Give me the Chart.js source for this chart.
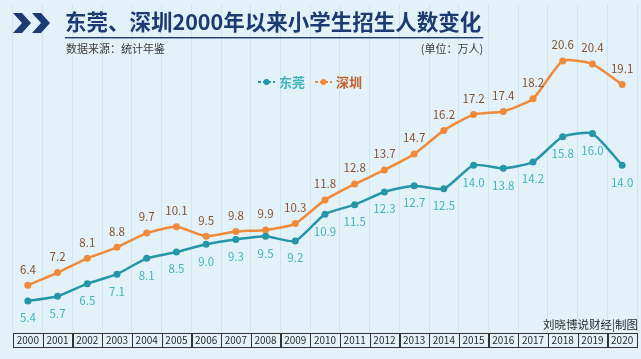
<!DOCTYPE html>
<html><head><meta charset="utf-8">
<script src="https://cdn.jsdelivr.net/npm/chart.js@4"></script>
<style>
html,body{margin:0;padding:0;background:#e3f2f9;}
#wrap{position:relative;width:641px;height:359px;}
canvas{display:block;}
</style></head>
<body><div id="wrap"><canvas id="c" width="641" height="359"></canvas></div>
<script>
const years = ['2000','2001','2002','2003','2004','2005','2006','2007','2008','2009','2010','2011','2012','2013','2014','2015','2016','2017','2018','2019','2020'];
const dongguan = [5.4,5.7,6.5,7.1,8.1,8.5,9.0,9.3,9.5,9.2,10.9,11.5,12.3,12.7,12.5,14.0,13.8,14.2,15.8,16.0,14.0];
const shenzhen = [6.4,7.2,8.1,8.8,9.7,10.1,9.5,9.8,9.9,10.3,11.8,12.8,13.7,14.7,16.2,17.2,17.4,18.2,20.6,20.4,19.1];
const seriesNames = ['东莞','深圳'];
const titleText = '东莞、深圳2000年以来小学生招生人数变化';
const sourceText = '数据来源：统计年鉴';
const unitText = '(单位：万人)';
const creditText = '刘晓博说财经|制图';

const FONT = '"Noto Sans CJK SC","Noto Sans",sans-serif';
const C_DG_LINE = '#2596a6', C_DG_LABEL = '#40b4ba';
const C_SZ_LINE = '#f08a3a', C_SZ_LABEL = '#87502f';

const deco = {
  id:'deco',
  beforeDraw(chart){
    const ctx = chart.ctx;
    ctx.save();
    ctx.fillStyle = '#e3f2f9';
    ctx.fillRect(0,0,chart.width,chart.height);
    ctx.restore();
  },
  afterDraw(chart){
    const ctx = chart.ctx;
    const xs = chart.scales.x;
    ctx.save();
    // chevrons
    ctx.fillStyle = '#1d3a72';
    const chev = (x0)=>{
      ctx.beginPath();
      ctx.moveTo(x0,13); ctx.lineTo(x0+9,13); ctx.lineTo(x0+18,23);
      ctx.lineTo(x0+9,33); ctx.lineTo(x0,33); ctx.lineTo(x0+9,23); ctx.closePath(); ctx.fill();
    };
    chev(13); chev(32);
    // title
    ctx.fillStyle = '#1d3a72';
    ctx.font = 'bold 21.5px ' + FONT;
    ctx.textBaseline = 'middle';
    ctx.textAlign = 'left';
    ctx.fillText(titleText, 65, 22);
    const tw = ctx.measureText(titleText).width;
    ctx.fillRect(65, 37, tw+2, 1.4);
    // subtitle
    ctx.fillStyle = '#3a3a3a';
    ctx.font = '11px ' + FONT;
    ctx.fillText(sourceText, 66, 49);
    ctx.textAlign = 'right';
    ctx.fillText(unitText, 65+tw+2, 49);
    // credit
    ctx.fillStyle = '#2a2a2a';
    ctx.font = '11.5px ' + FONT;
    ctx.fillText(creditText, 638, 325);
    // legend
    const legend = [[seriesNames[0], C_DG_LINE, C_DG_LABEL, 258],[seriesNames[1], C_SZ_LINE, '#c0602a', 315]];
    legend.forEach(([name, lc, tc, x])=>{
      ctx.strokeStyle = lc; ctx.lineWidth = 2; ctx.setLineDash([3,2]);
      ctx.beginPath(); ctx.moveTo(x,82); ctx.lineTo(x+17,82); ctx.stroke();
      ctx.setLineDash([]);
      ctx.fillStyle = lc; ctx.beginPath(); ctx.arc(x+8.5,82,3,0,Math.PI*2); ctx.fill();
      ctx.fillStyle = tc; ctx.font = 'bold 13px ' + FONT; ctx.textAlign='left';
      ctx.fillText(name, x+21, 82);
    });
    // data labels
    ctx.font = '11.5px ' + FONT;
    ctx.textAlign = 'center';
    const m0 = chart.getDatasetMeta(0), m1 = chart.getDatasetMeta(1);
    m0.data.forEach((p,i)=>{ ctx.fillStyle = C_DG_LABEL; ctx.fillText(dongguan[i].toFixed(1), p.x, p.y+17); });
    m1.data.forEach((p,i)=>{ ctx.fillStyle = C_SZ_LABEL; ctx.fillText(shenzhen[i].toFixed(1), p.x, p.y-16); });
    // year cells
    const n = years.length;
    const w = (xs.right - xs.left)/n;
    ctx.strokeStyle = '#333'; ctx.lineWidth = 1;
    ctx.font = '10px ' + FONT;
    ctx.fillStyle = '#2a2a2a';
    years.forEach((y,i)=>{
      const cx = xs.getPixelForValue(i);
      ctx.strokeRect(Math.round(cx - w/2)+0.5, 333.5, Math.round(w), 14);
      ctx.fillText(y, cx, 340.5);
    });
    ctx.restore();
  }
};

new Chart(document.getElementById('c'), {
  type:'line',
  data:{
    labels: years,
    datasets:[
      {label:seriesNames[0], data:dongguan, borderColor:C_DG_LINE, backgroundColor:C_DG_LINE, borderWidth:2.5, pointRadius:3.5, pointBackgroundColor:C_DG_LINE, pointBorderWidth:0, tension:0.18},
      {label:seriesNames[1], data:shenzhen, borderColor:C_SZ_LINE, backgroundColor:C_SZ_LINE, borderWidth:2.5, pointRadius:3.5, pointBackgroundColor:C_SZ_LINE, pointBorderWidth:0, tension:0.18}
    ]
  },
  options:{
    responsive:false, animation:false,
    devicePixelRatio:1,
    layout:{padding:{left:13, right:2, top:0, bottom:27}},
    plugins:{legend:{display:false}, tooltip:{enabled:false}},
    scales:{
      x:{offset:true, grid:{offset:true, color:'rgba(190,215,228,0.5)', drawTicks:false}, border:{display:false}, ticks:{display:false}},
      y:{display:false, min:3.44, max:24.2}
    }
  },
  plugins:[deco]
});
</script>
</body></html>
